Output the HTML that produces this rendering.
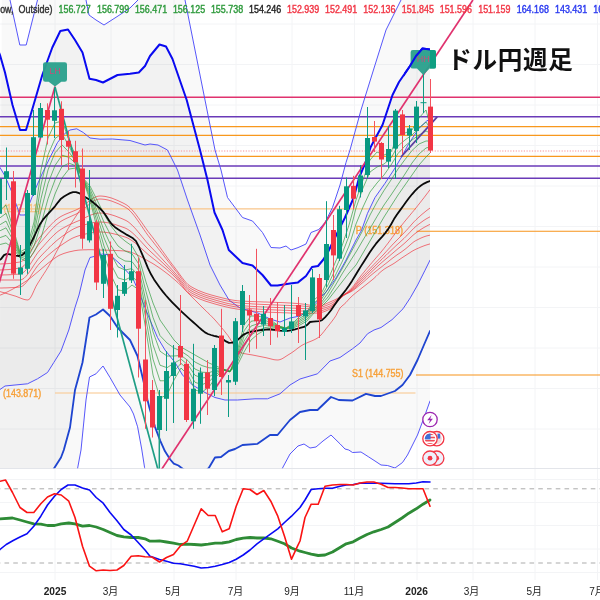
<!DOCTYPE html>
<html lang="ja"><head><meta charset="utf-8"><title>ドル円週足</title>
<style>html,body{margin:0;padding:0;background:#fff;}body{width:600px;height:600px;overflow:hidden;}svg{display:block;filter:blur(0.35px);}</style>
</head><body>
<svg width="600" height="600" viewBox="0 0 600 600">
<defs>
<clipPath id="cm"><rect x="0" y="0" width="430.0" height="468.5"/></clipPath>
<clipPath id="cp"><rect x="0" y="0" width="600" height="468.5"/></clipPath>
<clipPath id="ci"><rect x="0" y="468.5" width="600" height="111.5"/></clipPath>
</defs>
<rect width="600" height="600" fill="#fff"/>
<line x1="55" y1="0" x2="55" y2="580" stroke="#f3f4f6" stroke-width="1"/>
<line x1="111" y1="0" x2="111" y2="580" stroke="#f3f4f6" stroke-width="1"/>
<line x1="174" y1="0" x2="174" y2="580" stroke="#f3f4f6" stroke-width="1"/>
<line x1="236" y1="0" x2="236" y2="580" stroke="#f3f4f6" stroke-width="1"/>
<line x1="292" y1="0" x2="292" y2="580" stroke="#f3f4f6" stroke-width="1"/>
<line x1="354.5" y1="0" x2="354.5" y2="580" stroke="#f3f4f6" stroke-width="1"/>
<line x1="417" y1="0" x2="417" y2="580" stroke="#f3f4f6" stroke-width="1"/>
<line x1="473" y1="0" x2="473" y2="580" stroke="#f3f4f6" stroke-width="1"/>
<line x1="535" y1="0" x2="535" y2="580" stroke="#f3f4f6" stroke-width="1"/>
<line x1="597.5" y1="0" x2="597.5" y2="580" stroke="#f3f4f6" stroke-width="1"/>
<line x1="0" y1="24.0" x2="600" y2="24.0" stroke="#f3f4f6" stroke-width="1"/>
<line x1="0" y1="64.5" x2="600" y2="64.5" stroke="#f3f4f6" stroke-width="1"/>
<line x1="0" y1="105.0" x2="600" y2="105.0" stroke="#f3f4f6" stroke-width="1"/>
<line x1="0" y1="145.5" x2="600" y2="145.5" stroke="#f3f4f6" stroke-width="1"/>
<line x1="0" y1="186.0" x2="600" y2="186.0" stroke="#f3f4f6" stroke-width="1"/>
<line x1="0" y1="226.5" x2="600" y2="226.5" stroke="#f3f4f6" stroke-width="1"/>
<line x1="0" y1="267.0" x2="600" y2="267.0" stroke="#f3f4f6" stroke-width="1"/>
<line x1="0" y1="307.5" x2="600" y2="307.5" stroke="#f3f4f6" stroke-width="1"/>
<line x1="0" y1="348.0" x2="600" y2="348.0" stroke="#f3f4f6" stroke-width="1"/>
<line x1="0" y1="388.5" x2="600" y2="388.5" stroke="#f3f4f6" stroke-width="1"/>
<line x1="0" y1="429.0" x2="600" y2="429.0" stroke="#f3f4f6" stroke-width="1"/>
<line x1="0" y1="479.5" x2="600" y2="479.5" stroke="#f3f4f6" stroke-width="1"/>
<line x1="0" y1="502.5" x2="600" y2="502.5" stroke="#f3f4f6" stroke-width="1"/>
<line x1="0" y1="525.5" x2="600" y2="525.5" stroke="#f3f4f6" stroke-width="1"/>
<line x1="0" y1="549" x2="600" y2="549" stroke="#f3f4f6" stroke-width="1"/>
<line x1="0" y1="572.5" x2="600" y2="572.5" stroke="#f3f4f6" stroke-width="1"/>
<g clip-path="url(#cm)">
<polygon points="2.0,-40.0 10.0,0.0 19.8,45.0 26.2,45.0 37.5,0.0 42.0,-40.0 80.0,-40.0 86.0,0.0 89.0,15.0 96.0,20.0 104.0,25.0 118.0,16.0 130.0,8.0 138.0,0.0 150.0,-20.0 175.0,-20.0 185.0,0.0 195.0,50.0 204.0,95.0 215.0,150.0 221.0,170.0 227.5,197.5 235.0,207.5 242.5,217.5 252.5,221.0 262.5,232.5 271.0,247.5 280.0,248.0 286.0,246.0 291.0,250.0 298.0,247.6 306.0,244.0 311.0,232.5 318.8,229.5 325.0,222.5 332.5,207.5 340.0,185.0 346.0,162.5 350.0,150.0 361.0,110.0 375.0,65.0 386.0,30.0 401.0,0.0 430.0,-60.0 430.0,401.0 425.0,415.0 417.5,435.0 410.0,450.0 407.5,455.0 402.5,462.5 395.0,468.0 387.5,465.5 381.0,465.0 375.0,461.0 368.8,457.0 361.0,452.0 352.5,452.5 348.8,450.0 345.0,449.0 340.0,443.8 331.0,435.0 323.0,441.0 316.0,447.0 310.0,448.0 304.0,444.0 298.0,446.0 294.0,450.0 290.0,454.0 282.5,468.0 260.0,520.0 200.0,560.0 160.0,520.0 144.6,467.7 141.7,449.0 137.6,426.8 133.5,414.0 130.0,407.0 120.0,395.0 110.0,377.5 103.0,366.0 96.0,373.8 89.5,377.0 86.0,400.0 81.0,450.0 77.5,468.8 60.0,560.0 -2.0,700.0" fill="rgba(0,0,0,0.022)"/>
<polygon points="-2.0,50.0 0.0,55.0 5.0,72.5 12.5,105.0 20.0,130.0 26.0,130.0 32.8,107.5 42.3,75.0 52.3,47.5 60.3,31.0 68.0,29.5 75.0,40.0 82.5,52.5 89.5,78.8 96.0,80.0 103.0,82.5 117.5,75.0 130.0,73.8 138.8,72.5 145.0,66.0 150.0,56.0 159.5,44.5 166.0,46.5 172.5,59.0 186.7,100.0 200.0,150.0 207.5,180.0 214.5,212.5 222.5,230.0 228.8,250.0 242.5,263.0 252.5,265.5 262.5,275.0 271.0,285.5 277.5,285.5 290.0,283.6 298.0,282.4 306.0,276.0 312.0,267.0 318.0,266.0 323.0,260.0 328.0,252.0 337.5,232.5 345.0,217.5 353.8,197.5 359.0,178.0 365.8,161.7 370.8,146.7 382.5,125.0 392.5,95.0 399.0,82.0 410.0,66.0 416.0,56.0 422.5,48.5 430.0,49.5 430.0,331.0 425.0,342.5 417.5,360.0 410.0,375.0 402.5,385.0 395.0,391.0 381.0,396.0 375.0,396.0 366.0,393.8 352.5,400.5 338.8,400.0 331.0,397.0 317.5,410.0 310.0,410.0 300.0,412.0 290.0,420.0 277.5,435.0 270.0,435.0 257.5,443.8 242.5,445.0 235.0,449.0 228.8,451.0 221.0,457.0 215.0,457.5 208.8,468.0 200.0,476.0 190.0,474.0 181.3,467.7 178.4,465.5 173.8,463.6 170.2,459.5 165.0,451.3 160.3,440.8 155.0,426.8 149.2,407.0 147.5,400.0 143.8,382.5 137.5,356.0 130.0,340.0 117.5,327.5 110.0,316.0 103.0,309.5 96.0,314.5 89.5,317.5 82.5,362.5 75.0,390.0 70.0,427.5 63.8,450.0 61.0,457.5 53.8,468.8 45.0,500.0 30.0,560.0 -2.0,620.0" fill="rgba(0,0,0,0.028)"/>
<polygon points="-2.0,165.0 0.0,167.5 5.0,176.0 11.0,190.0 20.0,215.0 25.0,215.0 34.0,192.0 42.0,174.0 50.0,157.5 57.5,142.5 65.0,133.3 70.0,130.0 76.7,128.8 83.3,132.5 90.0,138.0 100.0,139.2 112.5,139.0 130.0,140.5 145.0,145.0 150.0,144.0 158.0,145.0 167.5,150.0 177.5,170.0 187.5,200.0 200.0,235.0 210.0,265.0 220.0,285.0 229.0,300.0 240.0,308.0 258.0,313.0 270.0,319.0 280.0,322.0 290.0,318.0 300.0,316.0 310.0,309.0 320.0,298.0 326.0,292.0 336.0,278.0 346.0,260.0 356.0,240.0 361.7,230.0 367.5,213.3 375.0,197.5 385.0,183.3 395.0,168.0 401.7,156.7 408.0,145.0 418.5,128.8 426.7,121.0 430.0,119.0 430.0,260.2 425.0,270.3 417.6,285.0 410.3,297.8 403.0,308.8 392.0,319.7 381.0,327.5 374.0,330.0 367.5,333.8 360.0,343.0 352.5,348.8 340.0,357.5 330.0,361.0 317.5,373.8 300.0,379.0 290.0,385.0 280.0,393.8 267.5,398.8 255.0,398.8 237.5,400.0 225.0,400.0 215.0,397.5 205.0,392.5 192.5,385.0 182.5,375.0 175.0,362.5 165.0,350.0 157.5,337.5 150.0,320.0 140.0,295.0 132.5,277.5 120.0,264.0 110.0,255.0 102.5,254.0 96.0,256.0 90.0,257.5 85.0,270.0 79.0,295.0 75.0,307.5 68.8,330.0 61.0,351.0 53.8,362.5 47.5,372.5 37.5,378.8 27.5,383.8 15.0,385.0 5.0,386.0 0.0,389.5 -2.0,390.0" fill="rgba(0,0,0,0.028)"/>
</g>
<line x1="0" y1="468.5" x2="600" y2="468.5" stroke="#e3e5ea" stroke-width="1"/>
<g clip-path="url(#cp)">
<line x1="0" y1="208.9" x2="416" y2="208.9" stroke="#f9c58a" stroke-width="1.2"/>
<line x1="55" y1="393" x2="415.5" y2="393" stroke="#f9c58a" stroke-width="1.2"/>
<line x1="416.5" y1="231.2" x2="600" y2="231.2" stroke="#f7931a" stroke-width="1.05"/>
<line x1="416" y1="375" x2="600" y2="375" stroke="#f7931a" stroke-width="1.05"/>
<line x1="0" y1="97.2" x2="600" y2="97.2" stroke="#e0326e" stroke-width="1.4"/>
<line x1="0" y1="116.7" x2="600" y2="116.7" stroke="#6a3ab8" stroke-width="1.4"/>
<line x1="0" y1="126.7" x2="600" y2="126.7" stroke="#f8981d" stroke-width="1.3"/>
<line x1="0" y1="135.3" x2="600" y2="135.3" stroke="#f8981d" stroke-width="1.3"/>
<line x1="0" y1="151" x2="600" y2="151" stroke="#f5919a" stroke-width="1.1" stroke-dasharray="1.2 1.5"/>
<line x1="0" y1="156.4" x2="600" y2="156.4" stroke="#f8981d" stroke-width="1.3"/>
<line x1="0" y1="166" x2="600" y2="166" stroke="#6a3ab8" stroke-width="1.6"/>
<line x1="0" y1="178.3" x2="600" y2="178.3" stroke="#6a3ab8" stroke-width="1.4"/>
<text x="355.8" y="233.7" font-family="Liberation Sans, Noto Sans CJK JP, sans-serif" font-size="10" font-weight="normal" fill="#f7a13a" stroke="#f7a13a" stroke-width="0.4" text-anchor="start" textLength="47.2" lengthAdjust="spacingAndGlyphs">P (151.318)</text>
<text x="352" y="377.4" font-family="Liberation Sans, Noto Sans CJK JP, sans-serif" font-size="10" font-weight="normal" fill="#f7a13a" stroke="#f7a13a" stroke-width="0.4" text-anchor="start" textLength="51.5" lengthAdjust="spacingAndGlyphs">S1 (144.755)</text>
<text x="3.0" y="396.7" font-family="Liberation Sans, Noto Sans CJK JP, sans-serif" font-size="10" font-weight="normal" fill="#f7a13a" stroke="#f7a13a" stroke-width="0.4" text-anchor="start" textLength="38.2" lengthAdjust="spacingAndGlyphs">(143.871)</text>
<text x="3.4" y="212.2" font-family="Liberation Sans, Noto Sans CJK JP, sans-serif" font-size="10" font-weight="normal" fill="#f9c283" stroke="#f9c283" stroke-width="0.4" text-anchor="start" textLength="37.8" lengthAdjust="spacingAndGlyphs">(152.111)</text>
<g clip-path="url(#cm)">
<polyline points="2.0,-40.0 10.0,0.0 19.8,45.0 26.2,45.0 37.5,0.0 42.0,-40.0 80.0,-40.0 86.0,0.0 89.0,15.0 96.0,20.0 104.0,25.0 118.0,16.0 130.0,8.0 138.0,0.0 150.0,-20.0 175.0,-20.0 185.0,0.0 195.0,50.0 204.0,95.0 215.0,150.0 221.0,170.0 227.5,197.5 235.0,207.5 242.5,217.5 252.5,221.0 262.5,232.5 271.0,247.5 280.0,248.0 286.0,246.0 291.0,250.0 298.0,247.6 306.0,244.0 311.0,232.5 318.8,229.5 325.0,222.5 332.5,207.5 340.0,185.0 346.0,162.5 350.0,150.0 361.0,110.0 375.0,65.0 386.0,30.0 401.0,0.0 430.0,-60.0" fill="none" stroke="#4d4dfa" stroke-width="0.95" stroke-linejoin="round" stroke-linecap="round" />
<polyline points="-2.0,700.0 60.0,560.0 77.5,468.8 81.0,450.0 86.0,400.0 89.5,377.0 96.0,373.8 103.0,366.0 110.0,377.5 120.0,395.0 130.0,407.0 133.5,414.0 137.6,426.8 141.7,449.0 144.6,467.7 160.0,520.0 200.0,560.0 260.0,520.0 282.5,468.0 290.0,454.0 294.0,450.0 298.0,446.0 304.0,444.0 310.0,448.0 316.0,447.0 323.0,441.0 331.0,435.0 340.0,443.8 345.0,449.0 348.8,450.0 352.5,452.5 361.0,452.0 368.8,457.0 375.0,461.0 381.0,465.0 387.5,465.5 395.0,468.0 402.5,462.5 407.5,455.0 410.0,450.0 417.5,435.0 425.0,415.0 430.0,401.0" fill="none" stroke="#4d4dfa" stroke-width="0.95" stroke-linejoin="round" stroke-linecap="round" />
<polyline points="-2.0,165.0 0.0,167.5 5.0,176.0 11.0,190.0 20.0,215.0 25.0,215.0 34.0,192.0 42.0,174.0 50.0,157.5 57.5,142.5 65.0,133.3 70.0,130.0 76.7,128.8 83.3,132.5 90.0,138.0 100.0,139.2 112.5,139.0 130.0,140.5 145.0,145.0 150.0,144.0 158.0,145.0 167.5,150.0 177.5,170.0 187.5,200.0 200.0,235.0 210.0,265.0 220.0,285.0 229.0,300.0 240.0,308.0 258.0,313.0 270.0,319.0 280.0,322.0 290.0,318.0 300.0,316.0 310.0,309.0 320.0,298.0 326.0,292.0 336.0,278.0 346.0,260.0 356.0,240.0 361.7,230.0 367.5,213.3 375.0,197.5 385.0,183.3 395.0,168.0 401.7,156.7 408.0,145.0 418.5,128.8 426.7,121.0 430.0,119.0" fill="none" stroke="#4d4dfa" stroke-width="0.95" stroke-linejoin="round" stroke-linecap="round" />
<polyline points="-2.0,390.0 0.0,389.5 5.0,386.0 15.0,385.0 27.5,383.8 37.5,378.8 47.5,372.5 53.8,362.5 61.0,351.0 68.8,330.0 75.0,307.5 79.0,295.0 85.0,270.0 90.0,257.5 96.0,256.0 102.5,254.0 110.0,255.0 120.0,264.0 132.5,277.5 140.0,295.0 150.0,320.0 157.5,337.5 165.0,350.0 175.0,362.5 182.5,375.0 192.5,385.0 205.0,392.5 215.0,397.5 225.0,400.0 237.5,400.0 255.0,398.8 267.5,398.8 280.0,393.8 290.0,385.0 300.0,379.0 317.5,373.8 330.0,361.0 340.0,357.5 352.5,348.8 360.0,343.0 367.5,333.8 374.0,330.0 381.0,327.5 392.0,319.7 403.0,308.8 410.3,297.8 417.6,285.0 425.0,270.3 430.0,260.2" fill="none" stroke="#4d4dfa" stroke-width="0.95" stroke-linejoin="round" stroke-linecap="round" />
<polyline points="-2.0,50.0 0.0,55.0 5.0,72.5 12.5,105.0 20.0,130.0 26.0,130.0 32.8,107.5 42.3,75.0 52.3,47.5 60.3,31.0 68.0,29.5 75.0,40.0 82.5,52.5 89.5,78.8 96.0,80.0 103.0,82.5 117.5,75.0 130.0,73.8 138.8,72.5 145.0,66.0 150.0,56.0 159.5,44.5 166.0,46.5 172.5,59.0 186.7,100.0 200.0,150.0 207.5,180.0 214.5,212.5 222.5,230.0 228.8,250.0 242.5,263.0 252.5,265.5 262.5,275.0 271.0,285.5 277.5,285.5 290.0,283.6 298.0,282.4 306.0,276.0 312.0,267.0 318.0,266.0 323.0,260.0 328.0,252.0 337.5,232.5 345.0,217.5 353.8,197.5 359.0,178.0 365.8,161.7 370.8,146.7 382.5,125.0 392.5,95.0 399.0,82.0 410.0,66.0 416.0,56.0 422.5,48.5 430.0,49.5" fill="none" stroke="#0a0af0" stroke-width="2.0" stroke-linejoin="round" stroke-linecap="round" />
<polyline points="-2.0,620.0 30.0,560.0 45.0,500.0 53.8,468.8 61.0,457.5 63.8,450.0 70.0,427.5 75.0,390.0 82.5,362.5 89.5,317.5 96.0,314.5 103.0,309.5 110.0,316.0 117.5,327.5 130.0,340.0 137.5,356.0 143.8,382.5 147.5,400.0 149.2,407.0 155.0,426.8 160.3,440.8 165.0,451.3 170.2,459.5 173.8,463.6 178.4,465.5 181.3,467.7 190.0,474.0 200.0,476.0 208.8,468.0 215.0,457.5 221.0,457.0 228.8,451.0 235.0,449.0 242.5,445.0 257.5,443.8 270.0,435.0 277.5,435.0 290.0,420.0 300.0,412.0 310.0,410.0 317.5,410.0 331.0,397.0 338.8,400.0 352.5,400.5 366.0,393.8 375.0,396.0 381.0,396.0 395.0,391.0 402.5,385.0 410.0,375.0 417.5,360.0 425.0,342.5 430.0,331.0" fill="none" stroke="#1f45d0" stroke-width="1.85" stroke-linejoin="round" stroke-linecap="round" />
<polyline points="-2.0,264.0 0.0,264.0 2.0,263.9 4.0,263.8 6.0,263.7 8.0,263.6 10.0,263.4 12.0,263.2 14.0,262.9 16.0,262.6 18.0,262.3 20.0,262.0 22.0,261.2 24.0,259.7 26.0,257.5 28.0,254.8 30.0,251.8 32.0,248.7 34.0,245.5 36.0,242.3 38.0,239.5 40.0,237.0 42.0,234.8 44.0,232.5 46.0,230.2 48.0,227.9 50.0,225.8 52.0,223.7 54.0,221.7 56.0,219.9 58.0,218.4 60.0,217.0 62.0,215.9 64.0,214.9 66.0,214.0 68.0,213.2 70.0,212.4 72.0,211.6 74.0,210.8 76.0,210.0 78.0,209.0 80.0,207.9 82.0,206.5 84.0,205.0 86.0,203.5 88.0,201.9 90.0,200.4 92.0,199.0 94.0,197.8 96.0,196.8 98.0,196.2 100.0,196.0 102.0,196.1 104.0,196.3 106.0,196.6 108.0,197.1 110.0,197.6 112.0,198.2 114.0,199.0 116.0,199.8 118.0,200.6 120.0,201.6 122.0,202.5 124.0,203.5 126.0,204.6 128.0,206.0 130.0,207.7 132.0,209.8 134.0,212.1 136.0,214.6 138.0,217.3 140.0,220.1 142.0,222.9 144.0,225.8 146.0,228.6 148.0,231.4 150.0,234.0 152.0,236.6 154.0,239.2 156.0,242.0 158.0,244.7 160.0,247.5 162.0,250.3 164.0,253.1 166.0,255.9 168.0,258.7 170.0,261.4 172.0,264.1 174.0,266.7 176.0,269.3 178.0,272.0 180.0,274.8 182.0,277.5 184.0,280.1 186.0,282.5 188.0,284.5 190.0,286.0 192.0,287.2 194.0,288.3 196.0,289.3 198.0,290.3 200.0,291.1 202.0,291.9 204.0,292.7 206.0,293.4 208.0,294.0 210.0,294.6 212.0,295.2 214.0,295.7 216.0,296.3 218.0,296.8 220.0,297.3 222.0,297.8 224.0,298.3 226.0,298.8 228.0,299.2 230.0,299.6 232.0,300.0 234.0,300.3 236.0,300.6 238.0,300.8 240.0,301.0 242.0,301.1 244.0,301.2 246.0,301.3 248.0,301.4 250.0,301.5 252.0,301.6 254.0,301.6 256.0,301.7 258.0,301.8 260.0,301.8 262.0,301.9 264.0,302.0 266.0,302.0 268.0,302.1 270.0,302.2 272.0,302.3 274.0,302.3 276.0,302.4 278.0,302.5 280.0,302.5 282.0,302.6 284.0,302.7 286.0,302.8 288.0,302.9 290.0,303.0 292.0,303.1 294.0,303.3 296.0,303.4 298.0,303.6 300.0,303.8 302.0,304.0 304.0,304.2 306.0,304.5 308.0,304.9 310.0,305.2 312.0,305.5 314.0,305.8 316.0,305.9 318.0,306.0 320.0,305.8 322.0,305.3 324.0,304.6 326.0,303.8 328.0,302.9 330.0,302.0 332.0,301.1 334.0,300.2 336.0,299.2 338.0,298.1 340.0,297.0 342.0,295.9 344.0,294.7 346.0,293.3 348.0,291.6 350.0,289.8 352.0,287.7 354.0,285.3 356.0,282.6 358.0,279.8 360.0,277.1 362.0,274.5 364.0,272.1 366.0,269.7 368.0,267.3 370.0,264.9 372.0,262.6 374.0,260.2 376.0,257.9 378.0,255.6 380.0,253.3 382.0,250.9 384.0,248.4 386.0,245.8 388.0,243.2 390.0,240.5 392.0,237.8 394.0,235.1 396.0,232.5 398.0,230.0 400.0,227.4 402.0,224.9 404.0,222.3 406.0,219.9 408.0,217.5 410.0,215.1 412.0,212.7 414.0,210.3 416.0,207.9 418.0,205.3 420.0,202.8 422.0,200.2 424.0,197.7 426.0,195.0 428.0,192.4 430.0,189.7" fill="none" stroke="#f0343f" stroke-width="0.8" stroke-linejoin="round" stroke-linecap="round" opacity="0.85"/>
<polyline points="-2.0,270.0 0.0,270.0 2.0,269.9 4.0,269.8 6.0,269.7 8.0,269.6 10.0,269.4 12.0,269.2 14.0,268.9 16.0,268.6 18.0,268.3 20.0,268.0 22.0,267.2 24.0,265.7 26.0,263.5 28.0,260.9 30.0,257.9 32.0,254.8 34.0,251.5 36.0,248.4 38.0,245.5 40.0,243.0 42.0,240.7 44.0,238.3 46.0,236.0 48.0,233.6 50.0,231.3 52.0,229.1 54.0,227.1 56.0,225.2 58.0,223.5 60.0,222.0 62.0,220.7 64.0,219.6 66.0,218.6 68.0,217.7 70.0,216.8 72.0,215.9 74.0,215.0 76.0,214.1 78.0,213.0 80.0,211.8 82.0,210.3 84.0,208.7 86.0,207.0 88.0,205.3 90.0,203.7 92.0,202.2 94.0,200.9 96.0,199.9 98.0,199.2 100.0,199.0 102.0,199.1 104.0,199.3 106.0,199.6 108.0,200.0 110.0,200.6 112.0,201.2 114.0,202.0 116.0,202.8 118.0,203.6 120.0,204.5 122.0,205.5 124.0,206.5 126.0,207.6 128.0,209.0 130.0,210.8 132.0,213.0 134.0,215.4 136.0,218.1 138.0,220.9 140.0,223.8 142.0,226.7 144.0,229.7 146.0,232.6 148.0,235.4 150.0,238.0 152.0,240.5 154.0,243.1 156.0,245.7 158.0,248.2 160.0,250.8 162.0,253.4 164.0,256.0 166.0,258.6 168.0,261.2 170.0,263.7 172.0,266.3 174.0,268.8 176.0,271.3 178.0,273.9 180.0,276.7 182.0,279.5 184.0,282.1 186.0,284.5 188.0,286.5 190.0,288.0 192.0,289.2 194.0,290.3 196.0,291.3 198.0,292.3 200.0,293.1 202.0,293.9 204.0,294.7 206.0,295.4 208.0,296.0 210.0,296.6 212.0,297.2 214.0,297.7 216.0,298.3 218.0,298.8 220.0,299.3 222.0,299.8 224.0,300.3 226.0,300.7 228.0,301.1 230.0,301.5 232.0,301.9 234.0,302.2 236.0,302.5 238.0,302.8 240.0,303.0 242.0,303.2 244.0,303.3 246.0,303.5 248.0,303.6 250.0,303.7 252.0,303.9 254.0,304.0 256.0,304.1 258.0,304.2 260.0,304.3 262.0,304.4 264.0,304.5 266.0,304.5 268.0,304.6 270.0,304.7 272.0,304.8 274.0,304.9 276.0,305.0 278.0,305.0 280.0,305.1 282.0,305.2 284.0,305.3 286.0,305.3 288.0,305.4 290.0,305.5 292.0,305.6 294.0,305.7 296.0,305.7 298.0,305.8 300.0,305.9 302.0,306.0 304.0,306.2 306.0,306.4 308.0,306.6 310.0,306.9 312.0,307.1 314.0,307.3 316.0,307.4 318.0,307.5 320.0,307.4 322.0,307.0 324.0,306.4 326.0,305.6 328.0,304.8 330.0,304.0 332.0,303.0 334.0,301.8 336.0,300.3 338.0,298.9 340.0,297.5 342.0,296.2 344.0,294.9 346.0,293.6 348.0,292.2 350.0,290.7 352.0,288.9 354.0,286.7 356.0,284.3 358.0,281.8 360.0,279.3 362.0,277.1 364.0,274.9 366.0,272.8 368.0,270.7 370.0,268.6 372.0,266.5 374.0,264.4 376.0,262.3 378.0,260.3 380.0,258.2 382.0,256.1 384.0,254.0 386.0,251.8 388.0,249.6 390.0,247.4 392.0,245.2 394.0,243.1 396.0,241.0 398.0,239.0 400.0,237.0 402.0,235.0 404.0,232.9 406.0,230.8 408.0,228.6 410.0,226.3 412.0,224.0 414.0,221.8 416.0,219.8 418.0,217.9 420.0,216.1 422.0,214.3 424.0,212.7 426.0,211.0 428.0,209.5 430.0,208.1" fill="none" stroke="#f0343f" stroke-width="0.8" stroke-linejoin="round" stroke-linecap="round" opacity="0.85"/>
<polyline points="-2.0,275.0 0.0,275.0 2.0,275.0 4.0,274.9 6.0,274.9 8.0,274.8 10.0,274.7 12.0,274.6 14.0,274.5 16.0,274.3 18.0,274.2 20.0,274.0 22.0,273.4 24.0,272.0 26.0,269.9 28.0,267.4 30.0,264.5 32.0,261.4 34.0,258.3 36.0,255.2 38.0,252.4 40.0,250.0 42.0,247.8 44.0,245.6 46.0,243.3 48.0,241.1 50.0,238.9 52.0,236.9 54.0,234.9 56.0,233.1 58.0,231.4 60.0,230.0 62.0,228.7 64.0,227.6 66.0,226.5 68.0,225.4 70.0,224.5 72.0,223.6 74.0,222.7 76.0,221.8 78.0,221.0 80.0,220.1 82.0,219.2 84.0,218.2 86.0,217.2 88.0,216.3 90.0,215.4 92.0,214.6 94.0,214.0 96.0,213.4 98.0,213.1 100.0,213.0 102.0,213.1 104.0,213.2 106.0,213.5 108.0,213.9 110.0,214.4 112.0,215.0 114.0,215.6 116.0,216.3 118.0,217.1 120.0,217.9 122.0,218.7 124.0,219.6 126.0,220.5 128.0,221.7 130.0,223.3 132.0,225.1 134.0,227.1 136.0,229.3 138.0,231.7 140.0,234.1 142.0,236.6 144.0,239.0 146.0,241.5 148.0,243.8 150.0,246.0 152.0,248.1 154.0,250.2 156.0,252.4 158.0,254.5 160.0,256.7 162.0,258.8 164.0,261.0 166.0,263.1 168.0,265.3 170.0,267.5 172.0,269.7 174.0,271.9 176.0,274.1 178.0,276.6 180.0,279.2 182.0,281.8 184.0,284.3 186.0,286.6 188.0,288.5 190.0,290.0 192.0,291.2 194.0,292.3 196.0,293.3 198.0,294.2 200.0,295.1 202.0,295.8 204.0,296.6 206.0,297.3 208.0,297.9 210.0,298.5 212.0,299.1 214.0,299.7 216.0,300.3 218.0,300.8 220.0,301.4 222.0,301.9 224.0,302.5 226.0,303.0 228.0,303.5 230.0,303.9 232.0,304.3 234.0,304.7 236.0,305.0 238.0,305.3 240.0,305.5 242.0,305.7 244.0,305.8 246.0,306.0 248.0,306.1 250.0,306.3 252.0,306.4 254.0,306.5 256.0,306.6 258.0,306.7 260.0,306.8 262.0,306.9 264.0,307.0 266.0,307.0 268.0,307.1 270.0,307.2 272.0,307.3 274.0,307.4 276.0,307.5 278.0,307.5 280.0,307.6 282.0,307.7 284.0,307.8 286.0,307.8 288.0,307.9 290.0,308.0 292.0,308.1 294.0,308.2 296.0,308.3 298.0,308.3 300.0,308.4 302.0,308.5 304.0,308.6 306.0,308.7 308.0,308.7 310.0,308.8 312.0,308.9 314.0,308.9 316.0,309.0 318.0,309.0 320.0,308.9 322.0,308.6 324.0,308.1 326.0,307.5 328.0,306.8 330.0,306.0 332.0,304.9 334.0,303.4 336.0,301.5 338.0,299.7 340.0,298.0 342.0,296.5 344.0,295.0 346.0,293.7 348.0,292.5 350.0,291.2 352.0,289.6 354.0,287.7 356.0,285.6 358.0,283.4 360.0,281.2 362.0,279.1 364.0,277.1 366.0,275.0 368.0,273.0 370.0,271.0 372.0,269.0 374.0,267.0 376.0,265.0 378.0,263.1 380.0,261.1 382.0,259.2 384.0,257.2 386.0,255.3 388.0,253.3 390.0,251.4 392.0,249.5 394.0,247.6 396.0,245.7 398.0,243.9 400.0,242.1 402.0,240.2 404.0,238.4 406.0,236.4 408.0,234.3 410.0,232.2 412.0,230.1 414.0,228.1 416.0,226.3 418.0,224.7 420.0,223.2 422.0,221.7 424.0,220.3 426.0,219.0 428.0,217.9 430.0,216.8" fill="none" stroke="#f0343f" stroke-width="0.8" stroke-linejoin="round" stroke-linecap="round" opacity="0.85"/>
<polyline points="-2.0,280.0 0.0,280.0 2.0,280.0 4.0,280.0 6.0,280.0 8.0,280.0 10.0,280.0 12.0,280.0 14.0,280.0 16.0,280.0 18.0,280.0 20.0,280.0 22.0,279.5 24.0,278.3 26.0,276.3 28.0,273.9 30.0,271.1 32.0,268.1 34.0,265.0 36.0,262.1 38.0,259.3 40.0,257.0 42.0,254.9 44.0,252.8 46.0,250.8 48.0,248.7 50.0,246.8 52.0,244.8 54.0,243.0 56.0,241.2 58.0,239.5 60.0,238.0 62.0,236.5 64.0,235.1 66.0,233.6 68.0,232.2 70.0,231.0 72.0,229.8 74.0,228.7 76.0,227.8 78.0,227.0 80.0,226.3 82.0,225.7 84.0,225.0 86.0,224.4 88.0,223.8 90.0,223.3 92.0,222.9 94.0,222.5 96.0,222.2 98.0,222.1 100.0,222.0 102.0,222.1 104.0,222.2 106.0,222.5 108.0,222.8 110.0,223.2 112.0,223.7 114.0,224.2 116.0,224.8 118.0,225.5 120.0,226.2 122.0,226.9 124.0,227.6 126.0,228.4 128.0,229.5 130.0,230.9 132.0,232.5 134.0,234.3 136.0,236.2 138.0,238.3 140.0,240.4 142.0,242.6 144.0,244.8 146.0,247.0 148.0,249.0 150.0,251.0 152.0,252.9 154.0,254.7 156.0,256.6 158.0,258.5 160.0,260.3 162.0,262.2 164.0,264.1 166.0,266.0 168.0,267.9 170.0,269.9 172.0,271.9 174.0,274.0 176.0,276.1 178.0,278.5 180.0,281.0 182.0,283.7 184.0,286.2 186.0,288.5 188.0,290.5 190.0,292.0 192.0,293.2 194.0,294.3 196.0,295.3 198.0,296.2 200.0,297.1 202.0,297.8 204.0,298.6 206.0,299.3 208.0,299.9 210.0,300.5 212.0,301.1 214.0,301.7 216.0,302.3 218.0,302.8 220.0,303.4 222.0,303.9 224.0,304.4 226.0,304.9 228.0,305.4 230.0,305.8 232.0,306.2 234.0,306.6 236.0,306.9 238.0,307.2 240.0,307.5 242.0,307.7 244.0,307.9 246.0,308.1 248.0,308.3 250.0,308.5 252.0,308.7 254.0,308.8 256.0,309.0 258.0,309.1 260.0,309.2 262.0,309.3 264.0,309.4 266.0,309.6 268.0,309.7 270.0,309.7 272.0,309.8 274.0,309.9 276.0,310.0 278.0,310.1 280.0,310.1 282.0,310.2 284.0,310.3 286.0,310.3 288.0,310.4 290.0,310.5 292.0,310.6 294.0,310.7 296.0,310.8 298.0,310.9 300.0,311.0 302.0,311.0 304.0,311.0 306.0,311.0 308.0,311.0 310.0,311.0 312.0,311.0 314.0,311.0 316.0,311.0 318.0,311.0 320.0,310.9 322.0,310.5 324.0,309.9 326.0,309.2 328.0,308.4 330.0,307.5 332.0,306.3 334.0,304.5 336.0,302.5 338.0,300.4 340.0,298.5 342.0,296.7 344.0,295.1 346.0,293.9 348.0,292.8 350.0,291.7 352.0,290.3 354.0,288.7 356.0,286.9 358.0,285.0 360.0,283.0 362.0,281.1 364.0,279.2 366.0,277.3 368.0,275.3 370.0,273.4 372.0,271.5 374.0,269.6 376.0,267.8 378.0,265.9 380.0,264.1 382.0,262.3 384.0,260.6 386.0,258.9 388.0,257.2 390.0,255.5 392.0,253.8 394.0,252.1 396.0,250.4 398.0,248.7 400.0,247.1 402.0,245.4 404.0,243.7 406.0,241.9 408.0,240.0 410.0,238.1 412.0,236.2 414.0,234.4 416.0,232.9 418.0,231.4 420.0,230.0 422.0,228.7 424.0,227.5 426.0,226.4 428.0,225.3 430.0,224.4" fill="none" stroke="#f0343f" stroke-width="0.8" stroke-linejoin="round" stroke-linecap="round" opacity="0.85"/>
<polyline points="-2.0,288.0 0.0,288.0 2.0,288.0 4.0,287.9 6.0,287.9 8.0,287.8 10.0,287.7 12.0,287.6 14.0,287.5 16.0,287.3 18.0,287.2 20.0,287.0 22.0,286.4 24.0,284.9 26.0,282.8 28.0,280.2 30.0,277.3 32.0,274.1 34.0,271.0 36.0,268.0 38.0,265.3 40.0,263.0 42.0,261.0 44.0,259.1 46.0,257.2 48.0,255.4 50.0,253.7 52.0,252.0 54.0,250.4 56.0,248.8 58.0,247.4 60.0,246.0 62.0,244.7 64.0,243.3 66.0,242.0 68.0,240.7 70.0,239.5 72.0,238.4 74.0,237.5 76.0,236.7 78.0,236.0 80.0,235.4 82.0,234.9 84.0,234.4 86.0,233.9 88.0,233.4 90.0,233.0 92.0,232.7 94.0,232.4 96.0,232.2 98.0,232.0 100.0,232.0 102.0,232.0 104.0,232.2 106.0,232.4 108.0,232.7 110.0,233.0 112.0,233.4 114.0,233.9 116.0,234.4 118.0,234.9 120.0,235.5 122.0,236.1 124.0,236.7 126.0,237.3 128.0,238.2 130.0,239.4 132.0,240.7 134.0,242.1 136.0,243.7 138.0,245.4 140.0,247.2 142.0,249.0 144.0,250.8 146.0,252.6 148.0,254.4 150.0,256.0 152.0,257.6 154.0,259.2 156.0,260.7 158.0,262.3 160.0,263.9 162.0,265.5 164.0,267.2 166.0,268.8 168.0,270.6 170.0,272.3 172.0,274.1 174.0,276.0 176.0,278.0 178.0,280.3 180.0,282.9 182.0,285.5 184.0,288.1 186.0,290.5 188.0,292.5 190.0,294.0 192.0,295.2 194.0,296.3 196.0,297.3 198.0,298.2 200.0,299.1 202.0,299.8 204.0,300.6 206.0,301.3 208.0,301.9 210.0,302.5 212.0,303.1 214.0,303.7 216.0,304.3 218.0,304.8 220.0,305.4 222.0,305.9 224.0,306.4 226.0,306.9 228.0,307.3 230.0,307.8 232.0,308.2 234.0,308.5 236.0,308.9 238.0,309.2 240.0,309.5 242.0,309.8 244.0,310.0 246.0,310.3 248.0,310.5 250.0,310.7 252.0,311.0 254.0,311.1 256.0,311.3 258.0,311.5 260.0,311.7 262.0,311.8 264.0,311.9 266.0,312.1 268.0,312.2 270.0,312.3 272.0,312.3 274.0,312.4 276.0,312.5 278.0,312.6 280.0,312.6 282.0,312.7 284.0,312.8 286.0,312.8 288.0,312.9 290.0,313.0 292.0,313.1 294.0,313.2 296.0,313.3 298.0,313.4 300.0,313.5 302.0,313.5 304.0,313.5 306.0,313.5 308.0,313.4 310.0,313.4 312.0,313.3 314.0,313.2 316.0,313.1 318.0,313.0 320.0,312.8 322.0,312.3 324.0,311.7 326.0,310.9 328.0,310.0 330.0,309.0 332.0,307.6 334.0,305.7 336.0,303.4 338.0,301.1 340.0,299.0 342.0,297.0 344.0,295.2 346.0,294.0 348.0,293.2 350.0,292.2 352.0,291.1 354.0,289.7 356.0,288.1 358.0,286.5 360.0,284.8 362.0,283.2 364.0,281.5 366.0,279.7 368.0,277.9 370.0,276.1 372.0,274.4 374.0,272.8 376.0,271.2 378.0,269.6 380.0,268.1 382.0,266.5 384.0,264.9 386.0,263.4 388.0,261.8 390.0,260.2 392.0,258.6 394.0,257.1 396.0,255.6 398.0,254.2 400.0,252.9 402.0,251.5 404.0,250.0 406.0,248.5 408.0,246.8 410.0,245.0 412.0,243.3 414.0,241.7 416.0,240.5 418.0,239.5 420.0,238.5 422.0,237.6 424.0,236.8 426.0,236.1 428.0,235.6 430.0,235.2" fill="none" stroke="#f0343f" stroke-width="0.8" stroke-linejoin="round" stroke-linecap="round" opacity="0.85"/>
<polyline points="-2.0,296.0 0.0,295.2 2.0,294.4 4.0,293.5 6.0,292.5 8.0,291.6 10.0,290.5 12.0,289.5 14.0,288.4 16.0,287.3 18.0,286.2 20.0,285.0 22.0,283.8 24.0,282.5 26.0,281.2 28.0,279.8 30.0,278.3 32.0,276.8 34.0,275.1 36.0,273.4 38.0,271.7 40.0,270.0 42.0,268.3 44.0,266.6 46.0,264.9 48.0,263.2 50.0,261.7 52.0,260.2 54.0,258.7 56.0,257.3 58.0,256.0 60.0,255.0 62.0,254.2 64.0,253.4 66.0,252.8 68.0,252.2 70.0,251.7 72.0,251.3 74.0,250.8 76.0,250.5 78.0,250.2 80.0,250.0 82.0,249.9 84.0,249.8 86.0,249.8 88.0,249.7 90.0,249.7 92.0,249.7 94.0,249.8 96.0,249.8 98.0,249.9 100.0,250.0 102.0,250.1 104.0,250.1 106.0,250.2 108.0,250.2 110.0,250.3 112.0,250.4 114.0,250.4 116.0,250.5 118.0,250.6 120.0,250.7 122.0,250.8 124.0,250.9 126.0,251.1 128.0,251.4 130.0,251.9 132.0,252.6 134.0,253.4 136.0,254.3 138.0,255.3 140.0,256.3 142.0,257.4 144.0,258.6 146.0,259.7 148.0,260.9 150.0,262.0 152.0,263.1 154.0,264.3 156.0,265.6 158.0,266.9 160.0,268.3 162.0,269.7 164.0,271.2 166.0,272.7 168.0,274.2 170.0,275.8 172.0,277.5 174.0,279.2 176.0,280.9 178.0,282.7 180.0,284.7 182.0,286.7 184.0,288.8 186.0,290.9 188.0,293.0 190.0,295.0 192.0,297.0 194.0,299.0 196.0,301.0 198.0,303.0 200.0,305.0 202.0,307.0 204.0,309.0 206.0,310.9 208.0,312.9 210.0,314.8 212.0,316.8 214.0,318.9 216.0,321.1 218.0,323.4 220.0,325.7 222.0,328.1 224.0,330.6 226.0,333.1 228.0,335.7 230.0,338.7 232.0,342.2 234.0,345.6 236.0,348.7 238.0,351.2 240.0,352.5 242.0,353.1 244.0,353.6 246.0,353.9 248.0,354.3 250.0,354.6 252.0,354.9 254.0,355.3 256.0,355.7 258.0,356.1 260.0,356.5 262.0,356.9 264.0,357.3 266.0,357.7 268.0,358.2 270.0,358.7 272.0,359.2 274.0,359.7 276.0,359.9 278.0,360.0 280.0,359.6 282.0,358.8 284.0,357.6 286.0,356.3 288.0,355.0 290.0,353.8 292.0,352.5 294.0,351.1 296.0,349.6 298.0,348.0 300.0,346.6 302.0,345.3 304.0,344.2 306.0,343.3 308.0,342.4 310.0,341.6 312.0,340.8 314.0,339.9 316.0,338.9 318.0,337.7 320.0,336.1 322.0,333.9 324.0,331.4 326.0,328.8 328.0,326.3 330.0,323.8 332.0,321.2 334.0,318.5 336.0,315.5 338.0,311.6 340.0,308.0 342.0,306.0 344.0,304.4 346.0,302.5 348.0,300.2 350.0,298.0 352.0,296.1 354.0,294.3 356.0,292.7 358.0,291.1 360.0,289.5 362.0,287.9 364.0,286.3 366.0,284.8 368.0,283.2 370.0,281.6 372.0,280.0 374.0,278.3 376.0,276.4 378.0,274.4 380.0,272.5 382.0,270.8 384.0,269.3 386.0,268.0 388.0,266.8 390.0,265.7 392.0,264.6 394.0,263.4 396.0,262.0 398.0,260.6 400.0,259.2 402.0,257.8 404.0,256.5 406.0,255.2 408.0,253.9 410.0,252.6 412.0,251.3 414.0,250.2 416.0,249.2 418.0,248.3 420.0,247.4 422.0,246.6 424.0,245.8 426.0,245.1 428.0,244.5 430.0,243.9" fill="none" stroke="#f0343f" stroke-width="0.8" stroke-linejoin="round" stroke-linecap="round" opacity="0.85"/>
<polyline points="-2.0,291.0 0.0,291.6 2.0,292.2 4.0,292.7 6.0,293.3 8.0,293.9 10.0,294.5 12.0,295.1 14.0,295.7 16.0,296.3 18.0,297.1 20.0,297.9 22.0,298.7 24.0,299.4 26.0,299.8 28.0,300.0 30.0,298.6 32.0,295.0 34.0,290.6 36.0,286.3 38.0,282.9 40.0,279.8 42.0,276.7 44.0,273.6 46.0,270.5 48.0,267.2 50.0,263.8 52.0,260.2 54.0,256.5 56.0,252.7 58.0,248.9 60.0,244.9 62.0,240.8 64.0,236.7 66.0,232.6 68.0,228.8 70.0,225.4 72.0,222.2 74.0,219.1 76.0,216.1 78.0,213.0 80.0,210.0" fill="none" stroke="#f0343f" stroke-width="0.8" stroke-linejoin="round" stroke-linecap="round" opacity="0.85"/>
<polyline points="-2.0,212.0 6.0,205.0 13.0,228.0 20.0,252.0 27.0,248.0 34.0,222.0 41.0,170.0 48.0,138.0 55.0,123.0 62.0,121.0 69.0,140.0 76.0,157.0 83.0,180.0 90.0,200.0 97.0,228.0 104.0,255.0 111.0,275.0 118.0,290.0 125.0,291.0 132.0,285.0 139.0,290.0 146.0,330.0 153.0,375.0 160.0,398.0 167.0,395.0 174.0,380.0 181.0,368.0 188.0,375.0 195.0,390.0 202.0,392.0 209.0,387.0 216.0,377.0 223.0,370.0 230.0,372.0 237.0,352.0 244.0,325.0 251.0,316.0 258.0,316.0 265.0,318.0 272.0,321.0 279.0,326.0 286.0,328.0 293.0,323.0 300.0,316.0 307.0,312.0 314.0,300.0 321.0,294.0 328.0,280.0 335.0,263.0 342.0,246.0 349.0,225.0 356.0,200.0 363.0,180.0 370.0,160.0 377.0,152.0 384.0,155.0 391.0,152.0 398.0,135.0 405.0,133.0 412.0,130.0 419.0,118.0 426.0,110.0 430.0,125.0" fill="none" stroke="#2e9a3c" stroke-width="0.8" stroke-linejoin="round" stroke-linecap="round" opacity="0.85"/>
<polyline points="-2.0,219.3 6.0,213.4 13.0,232.4 20.0,253.3 27.0,251.1 34.0,228.6 41.0,185.0 48.0,154.7 55.0,138.6 62.0,133.5 69.0,146.4 76.0,159.4 83.0,179.6 90.0,196.9 97.0,221.8 104.0,246.0 111.0,264.2 118.0,277.9 125.0,280.0 132.0,276.4 139.0,283.0 146.0,319.4 153.0,359.2 160.0,380.8 167.0,380.7 174.0,371.2 181.0,363.4 188.0,369.7 195.0,382.3 202.0,384.7 209.0,381.7 216.0,374.6 223.0,369.8 230.0,371.8 237.0,355.1 244.0,330.9 251.0,321.3 258.0,320.0 265.0,320.6 272.0,322.5 279.0,326.4 286.0,328.2 293.0,324.1 300.0,318.0 307.0,314.0 314.0,303.0 321.0,297.0 328.0,285.0 335.0,270.0 342.0,254.0 349.0,236.0 356.0,208.0 363.0,188.0 370.0,172.0 377.0,167.0 384.0,164.0 391.0,158.0 398.0,146.0 405.0,140.0 412.0,135.0 419.0,128.0 426.0,122.0 430.0,128.0" fill="none" stroke="#2e9a3c" stroke-width="0.8" stroke-linejoin="round" stroke-linecap="round" opacity="0.85"/>
<polyline points="-2.0,225.9 6.0,221.0 13.0,236.4 20.0,254.5 27.0,253.9 34.0,234.6 41.0,198.6 48.0,169.9 55.0,152.8 62.0,144.9 69.0,152.2 76.0,161.6 83.0,179.2 90.0,194.1 97.0,216.2 104.0,237.8 111.0,254.4 118.0,266.9 125.0,270.0 132.0,268.6 139.0,276.6 146.0,309.8 153.0,344.8 160.0,365.2 167.0,367.7 174.0,363.2 181.0,359.2 188.0,364.9 195.0,375.3 202.0,378.1 209.0,376.9 216.0,372.4 223.0,369.6 230.0,371.6 237.0,357.9 244.0,336.3 251.0,326.1 258.0,323.6 265.0,323.0 272.0,323.9 279.0,326.8 286.0,328.4 293.0,325.1 300.0,319.8 307.0,315.8 314.0,306.0 321.0,300.0 328.0,289.0 335.0,276.0 342.0,262.0 349.0,246.0 356.0,224.0 363.0,207.0 370.0,192.0 377.0,183.0 384.0,175.0 391.0,165.0 398.0,153.5 405.0,146.0 412.0,140.0 419.0,135.0 426.0,131.0 430.0,133.0" fill="none" stroke="#2e9a3c" stroke-width="0.8" stroke-linejoin="round" stroke-linecap="round" opacity="0.85"/>
<polyline points="-2.0,231.8 6.0,227.8 13.0,240.0 20.0,255.6 27.0,256.4 34.0,240.0 41.0,210.8 48.0,183.6 55.0,165.6 62.0,155.2 69.0,157.4 76.0,163.6 83.0,178.8 90.0,191.6 97.0,211.2 104.0,230.4 111.0,245.6 118.0,257.0 125.0,261.0 132.0,261.6 139.0,270.8 146.0,301.2 153.0,331.8 160.0,351.2 167.0,356.0 174.0,356.0 181.0,355.4 188.0,360.6 195.0,369.0 202.0,372.2 209.0,372.6 216.0,370.4 223.0,369.4 230.0,371.4 237.0,360.4 244.0,341.2 251.0,330.4 258.0,326.8 265.0,325.2 272.0,325.2 279.0,327.2 286.0,328.6 293.0,326.0 300.0,321.4 307.0,317.4 314.0,309.0 321.0,303.0 328.0,293.0 335.0,281.0 342.0,269.0 349.0,256.0 356.0,243.0 363.0,230.0 370.0,215.0 377.0,202.0 384.0,190.5 391.0,180.0 398.0,169.0 405.0,159.5 412.0,150.5 419.0,144.0 426.0,141.0 430.0,141.0" fill="none" stroke="#2e9a3c" stroke-width="0.8" stroke-linejoin="round" stroke-linecap="round" opacity="0.85"/>
<polyline points="-2.0,238.4 6.0,235.4 13.0,244.0 20.0,256.8 27.0,259.2 34.0,246.0 41.0,224.4 48.0,198.8 55.0,179.8 62.0,166.6 69.0,163.2 76.0,165.8 83.0,178.4 90.0,188.8 97.0,205.6 104.0,222.2 111.0,235.8 118.0,246.0 125.0,251.0 132.0,253.8 139.0,264.4 146.0,291.6 153.0,317.4 160.0,335.6 167.0,343.0 174.0,348.0 181.0,351.2 188.0,355.8 195.0,362.0 202.0,365.6 209.0,367.8 216.0,368.2 223.0,369.2 230.0,371.2 237.0,363.2 244.0,346.6 251.0,335.2 258.0,330.4 265.0,327.6 272.0,326.6 279.0,327.6 286.0,328.8 293.0,327.0 300.0,323.2 307.0,319.2 314.0,311.0 321.0,305.0 328.0,297.0 335.0,286.0 342.0,274.0 349.0,263.0 356.0,252.0 363.0,240.0 370.0,228.5 377.0,216.5 384.0,205.0 391.0,195.0 398.0,184.5 405.0,174.0 412.0,163.0 419.0,154.0 426.0,148.0 430.0,147.0" fill="none" stroke="#2e9a3c" stroke-width="0.8" stroke-linejoin="round" stroke-linecap="round" opacity="0.85"/>
<polyline points="-2.0,245.0 6.0,243.0 13.0,248.0 20.0,258.0 27.0,262.0 34.0,252.0 41.0,238.0 48.0,214.0 55.0,194.0 62.0,178.0 69.0,169.0 76.0,168.0 83.0,178.0 90.0,186.0 97.0,200.0 104.0,214.0 111.0,226.0 118.0,235.0 125.0,241.0 132.0,246.0 139.0,258.0 146.0,282.0 153.0,303.0 160.0,320.0 167.0,330.0 174.0,340.0 181.0,347.0 188.0,351.0 195.0,355.0 202.0,359.0 209.0,363.0 216.0,366.0 223.0,369.0 230.0,371.0 237.0,366.0 244.0,352.0 251.0,340.0 258.0,334.0 265.0,330.0 272.0,328.0 279.0,328.0 286.0,329.0 293.0,328.0 300.0,325.0 307.0,321.0 314.0,313.0 321.0,307.0 328.0,300.0 335.0,291.0 342.0,282.0 349.0,273.0 356.0,265.0 363.0,253.0 370.0,241.0 377.0,229.0 384.0,217.0 391.0,206.0 398.0,195.0 405.0,185.0 412.0,175.0 419.0,165.0 426.0,157.0 430.0,153.0" fill="none" stroke="#2e9a3c" stroke-width="0.8" stroke-linejoin="round" stroke-linecap="round" opacity="0.85"/>
<polyline points="-2.0,261.0 1.0,259.1 4.0,255.1 7.0,253.8 10.0,254.4 13.0,255.1 16.0,255.6 19.0,256.0 22.0,255.2 25.0,252.5 28.0,248.4 31.0,242.8 34.0,237.0 37.0,230.3 40.0,224.2 43.0,219.7 46.0,216.1 49.0,212.9 52.0,209.7 55.0,206.3 58.0,202.3 61.0,198.7 64.0,196.5 67.0,194.7 70.0,193.1 73.0,192.2 76.0,192.1 79.0,193.1 82.0,194.9 85.0,196.9 88.0,198.8 91.0,200.8 94.0,203.1 97.0,205.7 100.0,208.5 103.0,211.6 106.0,215.8 109.0,220.5 112.0,224.5 115.0,227.2 118.0,229.3 121.0,231.2 124.0,233.1 127.0,234.9 130.0,236.5 133.0,238.3 136.0,241.2 139.0,247.0 142.0,253.9 145.0,260.9 148.0,268.2 151.0,274.3 154.0,279.4 157.0,283.8 160.0,288.0 163.0,291.9 166.0,295.5 169.0,298.9 172.0,302.1 175.0,305.2 178.0,308.2 181.0,311.1 184.0,313.9 187.0,316.7 190.0,319.4 193.0,322.0 196.0,324.6 199.0,327.4 202.0,330.0 205.0,332.4 208.0,334.0 211.0,335.0 214.0,335.8 217.0,336.5 220.0,337.5 223.0,339.3 226.0,341.4 229.0,342.9 232.0,342.7 235.0,341.5 238.0,339.7 241.0,336.8 244.0,334.3 247.0,333.0 250.0,332.0 253.0,331.3 256.0,330.8 259.0,330.4 262.0,330.0 265.0,329.7 268.0,329.5 271.0,329.5 274.0,329.8 277.0,330.2 280.0,330.6 283.0,330.9 286.0,331.0 289.0,330.7 292.0,330.1 295.0,329.4 298.0,328.5 301.0,327.7 304.0,326.9 307.0,325.1 310.0,322.0 313.0,321.6 316.0,321.4 319.0,321.2 322.0,320.1 325.0,317.3 328.0,314.0 331.0,310.3 334.0,305.8 337.0,301.4 340.0,297.4 343.0,293.6 346.0,289.7 349.0,285.5 352.0,280.9 355.0,276.0 358.0,271.0 361.0,266.1 364.0,261.4 367.0,256.7 370.0,252.1 373.0,247.8 376.0,243.7 379.0,240.1 382.0,236.8 385.0,233.3 388.0,229.4 391.0,224.5 394.0,219.1 397.0,214.5 400.0,210.4 403.0,206.3 406.0,202.1 409.0,198.0 412.0,194.3 415.0,190.9 418.0,187.9 421.0,185.5 424.0,183.6 427.0,182.1 430.0,181.0" fill="none" stroke="#0a0a0a" stroke-width="1.8" stroke-linejoin="round" stroke-linecap="round" />
</g>
<line x1="55" y1="86.5" x2="-5" y2="297.8" stroke="#e0326e" stroke-width="1.7"/>
<line x1="472.9" y1="0" x2="161.2" y2="470" stroke="#e0326e" stroke-width="1.7"/>
<line x1="55" y1="87" x2="158.1" y2="470" stroke="#1f9e85" stroke-width="1.7"/>
<line x1="159.3" y1="428" x2="159.3" y2="470" stroke="#1f9e85" stroke-width="1.5"/>
<line x1="437.2" y1="116.8" x2="401" y2="157" stroke="#5a3fa0" stroke-width="1.8"/>
<path d="M45.2,62.2 H64.8 Q67.0,62.2 67.0,64.4 V79.6 Q67.0,81.8 64.8,81.8 H61.3 L55,86.5 L48.7,81.8 H45.2 Q43.0,81.8 43.0,79.6 V64.4 Q43.0,62.2 45.2,62.2 Z" fill="#2ba08c" opacity="0.96"/><text x="55" y="74.2" text-anchor="middle" font-family="Liberation Sans, sans-serif" font-size="9" fill="#c2507a">LH</text>
<path d="M412.8,50 H433.8 Q436.0,50 436.0,52.2 V66.39999999999999 Q436.0,68.6 433.8,68.6 H429.6 L423.3,75 L417.0,68.6 H412.8 Q410.6,68.6 410.6,66.39999999999999 V52.2 Q410.6,50 412.8,50 Z" fill="#2ba08c" opacity="0.96"/><clipPath id="sp423"><rect x="430" y="0" width="100" height="200"/></clipPath><path d="M412.8,50 H433.8 Q436.0,50 436.0,52.2 V66.39999999999999 Q436.0,68.6 433.8,68.6 H429.6 L423.3,75 L417.0,68.6 H412.8 Q410.6,68.6 410.6,66.39999999999999 V52.2 Q410.6,50 412.8,50 Z" fill="#0f9f82" clip-path="url(#sp423)"/><text x="423.3" y="62.0" text-anchor="middle" font-family="Liberation Sans, sans-serif" font-size="9" fill="#c2507a">HH</text>
<clipPath id="u2hh"><rect x="404" y="40" width="26" height="40"/></clipPath>
<polyline points="-2.0,50.0 0.0,55.0 5.0,72.5 12.5,105.0 20.0,130.0 26.0,130.0 32.8,107.5 42.3,75.0 52.3,47.5 60.3,31.0 68.0,29.5 75.0,40.0 82.5,52.5 89.5,78.8 96.0,80.0 103.0,82.5 117.5,75.0 130.0,73.8 138.8,72.5 145.0,66.0 150.0,56.0 159.5,44.5 166.0,46.5 172.5,59.0 186.7,100.0 200.0,150.0 207.5,180.0 214.5,212.5 222.5,230.0 228.8,250.0 242.5,263.0 252.5,265.5 262.5,275.0 271.0,285.5 277.5,285.5 290.0,283.6 298.0,282.4 306.0,276.0 312.0,267.0 318.0,266.0 323.0,260.0 328.0,252.0 337.5,232.5 345.0,217.5 353.8,197.5 359.0,178.0 365.8,161.7 370.8,146.7 382.5,125.0 392.5,95.0 399.0,82.0 410.0,66.0 416.0,56.0 422.5,48.5 430.0,49.5" fill="none" stroke="#0a0af0" stroke-width="2.0" stroke-linejoin="round" stroke-linecap="round" clip-path="url(#u2hh)"/>
<line x1="-0.5" y1="170.0" x2="-0.5" y2="216.0" stroke="#0c9b84" stroke-width="1" opacity="1"/>
<rect x="-3.0" y="178.8" width="5.0" height="35.0" fill="#089981"/>
<line x1="6.5" y1="147.5" x2="6.5" y2="200.0" stroke="#0c9b84" stroke-width="1" opacity="1"/>
<rect x="4.0" y="171.2" width="5.0" height="7.8" fill="#089981"/>
<line x1="13.5" y1="171.0" x2="13.5" y2="278.8" stroke="#f3525f" stroke-width="1" opacity="1"/>
<rect x="11.0" y="181.3" width="5.0" height="92.4" fill="#f23645"/>
<line x1="20.5" y1="245.0" x2="20.5" y2="295.0" stroke="#0c9b84" stroke-width="1" opacity="1"/>
<rect x="18.0" y="267.5" width="5.0" height="7.0" fill="#089981"/>
<line x1="27.5" y1="190.0" x2="27.5" y2="273.8" stroke="#0c9b84" stroke-width="1" opacity="1"/>
<rect x="25.0" y="193.0" width="5.0" height="75.8" fill="#089981"/>
<line x1="33.5" y1="110.0" x2="33.5" y2="196.0" stroke="#0c9b84" stroke-width="1" opacity="1"/>
<rect x="31.0" y="137.2" width="5.0" height="57.8" fill="#089981"/>
<line x1="40.5" y1="103.0" x2="40.5" y2="138.0" stroke="#0c9b84" stroke-width="1" opacity="1"/>
<rect x="38.0" y="108.0" width="5.0" height="29.5" fill="#089981"/>
<line x1="47.5" y1="103.3" x2="47.5" y2="144.5" stroke="#f3525f" stroke-width="1" opacity="1"/>
<rect x="45.0" y="110.0" width="5.0" height="9.7" fill="#f23645"/>
<line x1="54.5" y1="88.0" x2="54.5" y2="138.0" stroke="#0c9b84" stroke-width="1" opacity="1"/>
<rect x="52.0" y="110.3" width="5.0" height="10.5" fill="#089981"/>
<line x1="61.5" y1="101.3" x2="61.5" y2="165.0" stroke="#f3525f" stroke-width="1" opacity="1"/>
<rect x="59.0" y="108.8" width="5.0" height="31.2" fill="#f23645"/>
<line x1="68.5" y1="130.8" x2="68.5" y2="170.0" stroke="#f3525f" stroke-width="1" opacity="1"/>
<rect x="66.0" y="140.8" width="5.0" height="5.9" fill="#f23645"/>
<line x1="75.5" y1="140.8" x2="75.5" y2="187.5" stroke="#f3525f" stroke-width="1" opacity="1"/>
<rect x="73.0" y="151.2" width="5.0" height="11.0" fill="#f23645"/>
<line x1="82.5" y1="148.5" x2="82.5" y2="248.8" stroke="#f3525f" stroke-width="1" opacity="1"/>
<rect x="80.0" y="168.5" width="5.0" height="70.2" fill="#f23645"/>
<line x1="89.5" y1="170.0" x2="89.5" y2="242.5" stroke="#0c9b84" stroke-width="1" opacity="1"/>
<rect x="87.0" y="221.2" width="5.0" height="19.2" fill="#089981"/>
<line x1="96.5" y1="220.0" x2="96.5" y2="290.0" stroke="#f3525f" stroke-width="1" opacity="1"/>
<rect x="94.0" y="222.5" width="5.0" height="60.0" fill="#f23645"/>
<line x1="103.5" y1="248.8" x2="103.5" y2="298.0" stroke="#0c9b84" stroke-width="1" opacity="1"/>
<rect x="101.0" y="255.0" width="5.0" height="28.8" fill="#089981"/>
<line x1="110.5" y1="241.5" x2="110.5" y2="330.0" stroke="#f3525f" stroke-width="1" opacity="1"/>
<rect x="108.0" y="253.8" width="5.0" height="55.0" fill="#f23645"/>
<line x1="117.5" y1="285.0" x2="117.5" y2="337.5" stroke="#0c9b84" stroke-width="1" opacity="1"/>
<rect x="115.0" y="295.8" width="5.0" height="14.2" fill="#089981"/>
<line x1="124.5" y1="265.0" x2="124.5" y2="296.0" stroke="#0c9b84" stroke-width="1" opacity="1"/>
<rect x="122.0" y="282.0" width="5.0" height="11.8" fill="#089981"/>
<line x1="131.5" y1="243.8" x2="131.5" y2="283.0" stroke="#0c9b84" stroke-width="1" opacity="1"/>
<rect x="129.0" y="271.2" width="5.0" height="9.2" fill="#089981"/>
<line x1="138.5" y1="257.5" x2="138.5" y2="377.5" stroke="#f3525f" stroke-width="1" opacity="1"/>
<rect x="136.0" y="271.2" width="5.0" height="57.5" fill="#f23645"/>
<line x1="145.5" y1="300.0" x2="145.5" y2="428.8" stroke="#f3525f" stroke-width="1" opacity="1"/>
<rect x="143.0" y="359.5" width="5.0" height="41.8" fill="#f23645"/>
<line x1="152.5" y1="380.0" x2="152.5" y2="437.5" stroke="#f3525f" stroke-width="1" opacity="1"/>
<rect x="150.0" y="390.0" width="5.0" height="37.5" fill="#f23645"/>
<line x1="159.5" y1="390.0" x2="159.5" y2="431.5" stroke="#0c9b84" stroke-width="1" opacity="1"/>
<rect x="157.0" y="396.0" width="5.0" height="34.0" fill="#089981"/>
<line x1="166.5" y1="351.0" x2="166.5" y2="431.0" stroke="#0c9b84" stroke-width="1" opacity="1"/>
<rect x="164.0" y="371.0" width="5.0" height="27.8" fill="#089981"/>
<line x1="173.5" y1="345.0" x2="173.5" y2="423.0" stroke="#0c9b84" stroke-width="1" opacity="1"/>
<rect x="171.0" y="362.5" width="5.0" height="13.5" fill="#089981"/>
<line x1="180.5" y1="295.0" x2="180.5" y2="365.0" stroke="#f3525f" stroke-width="1" opacity="1"/>
<rect x="178.0" y="346.0" width="5.0" height="11.5" fill="#f23645"/>
<line x1="186.5" y1="360.0" x2="186.5" y2="422.0" stroke="#f3525f" stroke-width="1" opacity="1"/>
<rect x="184.0" y="363.8" width="5.0" height="56.2" fill="#f23645"/>
<line x1="193.5" y1="343.8" x2="193.5" y2="428.8" stroke="#0c9b84" stroke-width="1" opacity="1"/>
<rect x="191.0" y="388.8" width="5.0" height="32.5" fill="#089981"/>
<line x1="200.5" y1="367.5" x2="200.5" y2="423.8" stroke="#0c9b84" stroke-width="1" opacity="1"/>
<rect x="198.0" y="372.5" width="5.0" height="21.2" fill="#089981"/>
<line x1="207.5" y1="360.0" x2="207.5" y2="415.0" stroke="#f3525f" stroke-width="1" opacity="1"/>
<rect x="205.0" y="372.5" width="5.0" height="16.2" fill="#f23645"/>
<line x1="214.5" y1="345.0" x2="214.5" y2="396.0" stroke="#0c9b84" stroke-width="1" opacity="1"/>
<rect x="212.0" y="348.0" width="5.0" height="42.0" fill="#089981"/>
<line x1="221.5" y1="308.8" x2="221.5" y2="395.0" stroke="#f3525f" stroke-width="1" opacity="1"/>
<rect x="219.0" y="335.5" width="5.0" height="41.5" fill="#f23645"/>
<line x1="228.5" y1="375.0" x2="228.5" y2="417.0" stroke="#0c9b84" stroke-width="1" opacity="1"/>
<rect x="226.0" y="380.0" width="5.0" height="2.5" fill="#089981"/>
<line x1="235.5" y1="318.0" x2="235.5" y2="385.0" stroke="#0c9b84" stroke-width="1" opacity="1"/>
<rect x="233.0" y="321.2" width="5.0" height="60.5" fill="#089981"/>
<line x1="242.5" y1="285.0" x2="242.5" y2="332.0" stroke="#0c9b84" stroke-width="1" opacity="1"/>
<rect x="240.0" y="291.0" width="5.0" height="34.0" fill="#089981"/>
<line x1="249.5" y1="295.0" x2="249.5" y2="352.5" stroke="#f3525f" stroke-width="1" opacity="1"/>
<rect x="247.0" y="309.5" width="5.0" height="6.0" fill="#f23645"/>
<line x1="256.5" y1="248.8" x2="256.5" y2="348.8" stroke="#f3525f" stroke-width="1" opacity="1"/>
<rect x="254.0" y="313.8" width="5.0" height="7.5" fill="#f23645"/>
<line x1="263.5" y1="306.0" x2="263.5" y2="336.0" stroke="#0c9b84" stroke-width="1" opacity="1"/>
<rect x="261.0" y="313.8" width="5.0" height="10.8" fill="#089981"/>
<line x1="270.5" y1="298.0" x2="270.5" y2="345.0" stroke="#f3525f" stroke-width="1" opacity="1"/>
<rect x="268.0" y="318.0" width="5.0" height="8.2" fill="#f23645"/>
<line x1="277.5" y1="302.0" x2="277.5" y2="337.5" stroke="#f3525f" stroke-width="1" opacity="1"/>
<rect x="275.0" y="325.0" width="5.0" height="6.2" fill="#f23645"/>
<line x1="284.5" y1="305.0" x2="284.5" y2="336.0" stroke="#0c9b84" stroke-width="1" opacity="1"/>
<rect x="282.0" y="328.0" width="5.0" height="4.0" fill="#089981"/>
<line x1="291.5" y1="285.0" x2="291.5" y2="333.0" stroke="#0c9b84" stroke-width="1" opacity="1"/>
<rect x="289.0" y="321.4" width="5.0" height="7.6" fill="#089981"/>
<line x1="298.5" y1="297.0" x2="298.5" y2="343.0" stroke="#f3525f" stroke-width="1" opacity="1"/>
<rect x="296.0" y="305.0" width="5.0" height="11.0" fill="#f23645"/>
<line x1="305.5" y1="303.0" x2="305.5" y2="360.0" stroke="#0c9b84" stroke-width="1" opacity="1"/>
<rect x="303.0" y="310.4" width="5.0" height="6.0" fill="#089981"/>
<line x1="312.5" y1="269.0" x2="312.5" y2="313.0" stroke="#0c9b84" stroke-width="1" opacity="1"/>
<rect x="310.0" y="277.4" width="5.0" height="33.6" fill="#089981"/>
<line x1="319.5" y1="274.0" x2="319.5" y2="338.0" stroke="#f3525f" stroke-width="1" opacity="1"/>
<rect x="317.0" y="278.0" width="5.0" height="41.4" fill="#f23645"/>
<line x1="326.5" y1="201.2" x2="326.5" y2="287.0" stroke="#0c9b84" stroke-width="1" opacity="1"/>
<rect x="324.0" y="244.0" width="5.0" height="36.0" fill="#089981"/>
<line x1="333.5" y1="215.0" x2="333.5" y2="280.0" stroke="#f3525f" stroke-width="1" opacity="1"/>
<rect x="331.0" y="230.0" width="5.0" height="25.4" fill="#f23645"/>
<line x1="339.5" y1="205.8" x2="339.5" y2="261.0" stroke="#0c9b84" stroke-width="1" opacity="1"/>
<rect x="337.0" y="209.2" width="5.0" height="49.4" fill="#089981"/>
<line x1="346.5" y1="177.5" x2="346.5" y2="238.0" stroke="#0c9b84" stroke-width="1" opacity="1"/>
<rect x="344.0" y="186.3" width="5.0" height="23.7" fill="#089981"/>
<line x1="353.5" y1="175.8" x2="353.5" y2="209.0" stroke="#f3525f" stroke-width="1" opacity="1"/>
<rect x="351.0" y="185.8" width="5.0" height="12.9" fill="#f23645"/>
<line x1="360.5" y1="165.0" x2="360.5" y2="197.5" stroke="#0c9b84" stroke-width="1" opacity="1"/>
<rect x="358.0" y="175.5" width="5.0" height="16.7" fill="#089981"/>
<line x1="367.5" y1="107.0" x2="367.5" y2="178.0" stroke="#0c9b84" stroke-width="1" opacity="1"/>
<rect x="365.0" y="138.0" width="5.0" height="37.0" fill="#089981"/>
<line x1="374.5" y1="121.0" x2="374.5" y2="152.0" stroke="#f3525f" stroke-width="1" opacity="1"/>
<rect x="372.0" y="137.0" width="5.0" height="4.6" fill="#f23645"/>
<line x1="381.5" y1="142.0" x2="381.5" y2="179.0" stroke="#f3525f" stroke-width="1" opacity="1"/>
<rect x="379.0" y="143.0" width="5.0" height="16.5" fill="#f23645"/>
<line x1="388.5" y1="126.0" x2="388.5" y2="168.0" stroke="#0c9b84" stroke-width="1" opacity="1"/>
<rect x="386.0" y="149.0" width="5.0" height="12.6" fill="#089981"/>
<line x1="395.5" y1="109.0" x2="395.5" y2="179.0" stroke="#0c9b84" stroke-width="1" opacity="1"/>
<rect x="393.0" y="110.6" width="5.0" height="38.0" fill="#089981"/>
<line x1="402.5" y1="110.0" x2="402.5" y2="154.0" stroke="#f3525f" stroke-width="1" opacity="1"/>
<rect x="400.0" y="114.4" width="5.0" height="20.6" fill="#f23645"/>
<line x1="409.5" y1="125.0" x2="409.5" y2="150.0" stroke="#0c9b84" stroke-width="1" opacity="1"/>
<rect x="407.0" y="128.4" width="5.0" height="7.2" fill="#089981"/>
<line x1="416.5" y1="101.0" x2="416.5" y2="143.0" stroke="#0c9b84" stroke-width="1" opacity="1"/>
<rect x="414.0" y="106.6" width="5.0" height="24.4" fill="#089981"/>
<line x1="423.5" y1="74.0" x2="423.5" y2="113.0" stroke="#0c9b84" stroke-width="1" opacity="1"/>
<rect x="420.5" y="102.2" width="6.0" height="1.0" fill="#089981"/>
<line x1="430.5" y1="79.0" x2="430.5" y2="153.0" stroke="#f3525f" stroke-width="1" opacity="1"/>
<rect x="428.0" y="106.6" width="5.0" height="44.0" fill="#f23645"/>
</g>
<text x="0.2" y="12.9" font-family="Liberation Sans, Noto Sans CJK JP, sans-serif" font-size="10.1" font-weight="normal" fill="#333" stroke="#333" stroke-width="0.4" text-anchor="start" textLength="13.2" lengthAdjust="spacingAndGlyphs">ow,</text>
<text x="18.4" y="12.9" font-family="Liberation Sans, Noto Sans CJK JP, sans-serif" font-size="10.1" font-weight="normal" fill="#333" stroke="#333" stroke-width="0.4" text-anchor="start" textLength="34" lengthAdjust="spacingAndGlyphs">Outside)</text>
<text x="58.5" y="12.9" font-family="Liberation Sans, Noto Sans CJK JP, sans-serif" font-size="10.1" font-weight="normal" fill="#2e9a3c" stroke="#2e9a3c" stroke-width="0.4" text-anchor="start" textLength="32.2" lengthAdjust="spacingAndGlyphs">156.727</text>
<text x="97.0" y="12.9" font-family="Liberation Sans, Noto Sans CJK JP, sans-serif" font-size="10.1" font-weight="normal" fill="#2e9a3c" stroke="#2e9a3c" stroke-width="0.4" text-anchor="start" textLength="32.2" lengthAdjust="spacingAndGlyphs">156.799</text>
<text x="134.89999999999998" y="12.9" font-family="Liberation Sans, Noto Sans CJK JP, sans-serif" font-size="10.1" font-weight="normal" fill="#2e9a3c" stroke="#2e9a3c" stroke-width="0.4" text-anchor="start" textLength="32.2" lengthAdjust="spacingAndGlyphs">156.471</text>
<text x="172.89999999999998" y="12.9" font-family="Liberation Sans, Noto Sans CJK JP, sans-serif" font-size="10.1" font-weight="normal" fill="#2e9a3c" stroke="#2e9a3c" stroke-width="0.4" text-anchor="start" textLength="32.2" lengthAdjust="spacingAndGlyphs">156.125</text>
<text x="210.89999999999998" y="12.9" font-family="Liberation Sans, Noto Sans CJK JP, sans-serif" font-size="10.1" font-weight="normal" fill="#2e9a3c" stroke="#2e9a3c" stroke-width="0.4" text-anchor="start" textLength="32.2" lengthAdjust="spacingAndGlyphs">155.738</text>
<text x="249.0" y="12.9" font-family="Liberation Sans, Noto Sans CJK JP, sans-serif" font-size="10.1" font-weight="normal" fill="#222" stroke="#222" stroke-width="0.4" text-anchor="start" textLength="32.2" lengthAdjust="spacingAndGlyphs">154.246</text>
<text x="287.0" y="12.9" font-family="Liberation Sans, Noto Sans CJK JP, sans-serif" font-size="10.1" font-weight="normal" fill="#f23645" stroke="#f23645" stroke-width="0.4" text-anchor="start" textLength="32.2" lengthAdjust="spacingAndGlyphs">152.939</text>
<text x="325.0" y="12.9" font-family="Liberation Sans, Noto Sans CJK JP, sans-serif" font-size="10.1" font-weight="normal" fill="#f23645" stroke="#f23645" stroke-width="0.4" text-anchor="start" textLength="32.2" lengthAdjust="spacingAndGlyphs">152.491</text>
<text x="363.3" y="12.9" font-family="Liberation Sans, Noto Sans CJK JP, sans-serif" font-size="10.1" font-weight="normal" fill="#f23645" stroke="#f23645" stroke-width="0.4" text-anchor="start" textLength="32.2" lengthAdjust="spacingAndGlyphs">152.136</text>
<text x="401.7" y="12.9" font-family="Liberation Sans, Noto Sans CJK JP, sans-serif" font-size="10.1" font-weight="normal" fill="#f23645" stroke="#f23645" stroke-width="0.4" text-anchor="start" textLength="32.2" lengthAdjust="spacingAndGlyphs">151.845</text>
<text x="439.7" y="12.9" font-family="Liberation Sans, Noto Sans CJK JP, sans-serif" font-size="10.1" font-weight="normal" fill="#f23645" stroke="#f23645" stroke-width="0.4" text-anchor="start" textLength="32.2" lengthAdjust="spacingAndGlyphs">151.596</text>
<text x="478.2" y="12.9" font-family="Liberation Sans, Noto Sans CJK JP, sans-serif" font-size="10.1" font-weight="normal" fill="#f23645" stroke="#f23645" stroke-width="0.4" text-anchor="start" textLength="32.2" lengthAdjust="spacingAndGlyphs">151.159</text>
<text x="516.7" y="12.9" font-family="Liberation Sans, Noto Sans CJK JP, sans-serif" font-size="10.1" font-weight="normal" fill="#2a3af0" stroke="#2a3af0" stroke-width="0.4" text-anchor="start" textLength="32.2" lengthAdjust="spacingAndGlyphs">164.168</text>
<text x="555.0" y="12.9" font-family="Liberation Sans, Noto Sans CJK JP, sans-serif" font-size="10.1" font-weight="normal" fill="#2a3af0" stroke="#2a3af0" stroke-width="0.4" text-anchor="start" textLength="32.2" lengthAdjust="spacingAndGlyphs">143.431</text>
<text x="593.2" y="12.9" font-family="Liberation Sans, Noto Sans CJK JP, sans-serif" font-size="10.1" font-weight="normal" fill="#2a3af0" stroke="#2a3af0" stroke-width="0.4" text-anchor="start" textLength="32.2" lengthAdjust="spacingAndGlyphs">164.168</text>
<text x="447.2" y="69.2" font-family="Liberation Sans, Noto Sans CJK JP, sans-serif" font-size="24.6" font-weight="bold" fill="#111" letter-spacing="0.7">ドル円週足</text>
<g>
<circle cx="436.7" cy="438.7" r="7.2" fill="#fff" stroke="#f23645" stroke-width="1.3"/>
<circle cx="436.7" cy="438.7" r="5.2" fill="#f6d9dc"/>
<rect x="437.6" y="433.6" width="2.6" height="5" fill="#3f6fd8"/>
<circle cx="430" cy="438.7" r="7.2" fill="#fff" stroke="#f23645" stroke-width="1.3"/>
<clipPath id="fl"><circle cx="430" cy="438.7" r="5.2"/></clipPath>
<g clip-path="url(#fl)"><rect x="424" y="433" width="12" height="12" fill="#fff"/><rect x="424" y="433.5" width="12" height="1.6" fill="#ef4b57"/><rect x="424" y="436.7" width="12" height="1.6" fill="#ef4b57"/><rect x="424" y="439.9" width="12" height="1.6" fill="#ef4b57"/><rect x="424" y="443.1" width="12" height="1.6" fill="#ef4b57"/><rect x="424" y="433" width="6.6" height="6.4" fill="#3f6fd8"/></g>
<circle cx="436.7" cy="458.2" r="7.2" fill="#eef0fb" stroke="#f23645" stroke-width="1.3"/>
<circle cx="436.7" cy="458.2" r="2.4" fill="#f23645"/>
<circle cx="430" cy="458.2" r="7.2" fill="#eef0fb" stroke="#f23645" stroke-width="1.3"/>
<circle cx="430" cy="458.2" r="2.4" fill="#f23645"/>
<circle cx="430" cy="419.5" r="7.2" fill="#fff" stroke="#9c27b0" stroke-width="1.3"/>
<path d="M431.6,415 L427.2,420.3 L430,420.3 L428.6,424 L432.9,418.7 L430.2,418.7 Z" fill="#9c27b0"/>
</g>
<g clip-path="url(#ci)">
<line x1="0" y1="488.8" x2="600" y2="488.8" stroke="#a2a2a2" stroke-width="0.9" stroke-dasharray="4.6 4.15" stroke-dashoffset="-4.5"/>
<line x1="0" y1="563" x2="600" y2="563" stroke="#a2a2a2" stroke-width="0.9" stroke-dasharray="4.6 4.15" stroke-dashoffset="-4.5"/>
<polyline points="-2.0,518.8 0.0,518.8 12.5,518.0 20.0,520.0 27.0,522.0 33.8,523.8 40.8,524.2 47.5,525.5 54.5,525.5 61.2,523.8 68.8,523.0 75.0,523.8 82.5,526.2 89.5,525.5 96.2,527.0 103.2,529.5 110.0,532.5 117.0,535.5 123.8,536.8 131.2,537.5 138.2,537.5 145.0,538.8 150.0,541.2 155.0,541.2 159.5,540.8 166.5,542.0 173.5,543.2 180.2,544.5 187.2,544.2 194.2,544.5 201.2,545.0 208.2,544.2 215.2,543.2 222.2,543.0 229.2,541.8 236.2,539.5 243.2,538.2 250.0,537.5 257.0,538.0 263.8,538.0 270.8,538.8 277.8,541.2 284.5,543.8 291.5,548.0 300.0,551.2 305.0,552.5 311.2,554.2 318.2,555.5 325.0,555.0 332.5,552.0 340.0,547.5 346.2,543.8 353.2,541.8 360.0,538.0 367.0,534.5 373.8,531.8 381.2,529.5 388.0,527.0 395.0,522.5 402.0,518.0 408.8,513.2 416.2,508.8 423.0,504.2 430.0,500.0" fill="none" stroke="#2e8b36" stroke-width="2.8" stroke-linejoin="round" stroke-linecap="round" />
<polyline points="-2.0,551.0 0.0,549.5 6.2,544.5 13.2,540.5 20.0,537.0 27.0,533.8 33.8,526.2 40.8,516.2 47.5,505.0 54.5,496.2 61.2,489.5 68.0,485.0 75.0,485.0 82.5,488.0 89.5,490.0 96.2,497.5 103.2,503.2 110.0,512.5 117.0,520.8 123.8,529.5 131.2,535.0 138.2,542.5 145.0,550.0 150.0,556.2 153.8,557.5 159.5,559.5 166.5,561.2 173.5,563.2 180.2,563.8 187.2,565.0 194.2,566.2 201.2,568.0 208.2,567.5 215.2,566.2 222.2,564.5 229.2,562.5 236.2,559.2 243.2,555.0 250.0,550.0 257.0,543.8 263.8,538.8 270.8,533.8 277.8,528.8 284.5,522.5 291.5,516.2 300.0,507.5 305.0,500.0 311.2,489.5 318.2,488.8 325.0,488.2 332.5,488.2 340.0,486.2 346.2,485.0 353.2,484.5 360.0,483.2 367.0,483.2 381.2,483.2 395.0,483.8 408.8,483.8 416.2,483.0 423.0,481.8 430.0,482.0" fill="none" stroke="#0a0af5" stroke-width="1.6" stroke-linejoin="round" stroke-linecap="round" />
<polyline points="-2.0,481.5 0.0,481.2 5.5,480.0 12.5,492.5 20.0,507.5 27.0,512.5 33.8,512.5 40.8,503.8 47.5,497.0 54.5,493.8 61.2,495.0 68.8,501.2 75.0,517.5 82.5,546.2 89.5,566.2 96.2,570.8 103.2,570.0 110.0,570.5 117.0,570.0 123.8,565.5 131.2,556.2 138.2,555.8 145.0,556.8 152.0,557.0 159.5,562.0 166.5,557.5 173.5,554.5 180.2,546.2 187.2,541.2 194.2,525.0 201.2,508.8 208.2,515.5 215.2,515.5 222.2,531.8 229.2,528.8 236.2,506.2 243.2,488.8 250.0,489.5 257.0,494.5 263.8,490.5 270.8,501.2 277.8,516.2 284.5,536.2 291.5,559.2 297.5,546.2 300.0,541.0 305.0,517.5 311.2,504.2 318.2,504.2 325.0,486.2 332.5,485.0 340.0,484.5 346.2,484.5 353.2,485.0 360.0,483.0 367.0,482.0 373.8,482.0 381.2,484.2 388.0,487.5 395.0,487.5 402.0,488.0 408.8,488.8 416.2,488.8 423.0,488.8 430.0,506.2" fill="none" stroke="#fa1414" stroke-width="1.6" stroke-linejoin="round" stroke-linecap="round" />
</g>
<text x="55" y="595" font-family="Liberation Sans, Noto Sans CJK JP, sans-serif" font-size="10.2" font-weight="bold" fill="#222" text-anchor="middle">2025</text>
<text x="110.5" y="595" font-family="Liberation Sans, Noto Sans CJK JP, sans-serif" font-size="10" font-weight="normal" fill="#222" text-anchor="middle">3月</text>
<text x="173" y="595" font-family="Liberation Sans, Noto Sans CJK JP, sans-serif" font-size="10" font-weight="normal" fill="#222" text-anchor="middle">5月</text>
<text x="235.5" y="595" font-family="Liberation Sans, Noto Sans CJK JP, sans-serif" font-size="10" font-weight="normal" fill="#222" text-anchor="middle">7月</text>
<text x="292" y="595" font-family="Liberation Sans, Noto Sans CJK JP, sans-serif" font-size="10" font-weight="normal" fill="#222" text-anchor="middle">9月</text>
<text x="354" y="595" font-family="Liberation Sans, Noto Sans CJK JP, sans-serif" font-size="10" font-weight="normal" fill="#222" text-anchor="middle">11月</text>
<text x="416.6" y="595" font-family="Liberation Sans, Noto Sans CJK JP, sans-serif" font-size="10.2" font-weight="bold" fill="#222" text-anchor="middle">2026</text>
<text x="471.5" y="595" font-family="Liberation Sans, Noto Sans CJK JP, sans-serif" font-size="10" font-weight="normal" fill="#222" text-anchor="middle">3月</text>
<text x="534.3" y="595" font-family="Liberation Sans, Noto Sans CJK JP, sans-serif" font-size="10" font-weight="normal" fill="#222" text-anchor="middle">5月</text>
<text x="597" y="595" font-family="Liberation Sans, Noto Sans CJK JP, sans-serif" font-size="10" font-weight="normal" fill="#222" text-anchor="middle">7月</text>
<text x="-8.6" y="595" font-family="Liberation Sans, Noto Sans CJK JP, sans-serif" font-size="10" font-weight="normal" fill="#222" text-anchor="middle">11月</text>
</svg>
</body></html>
